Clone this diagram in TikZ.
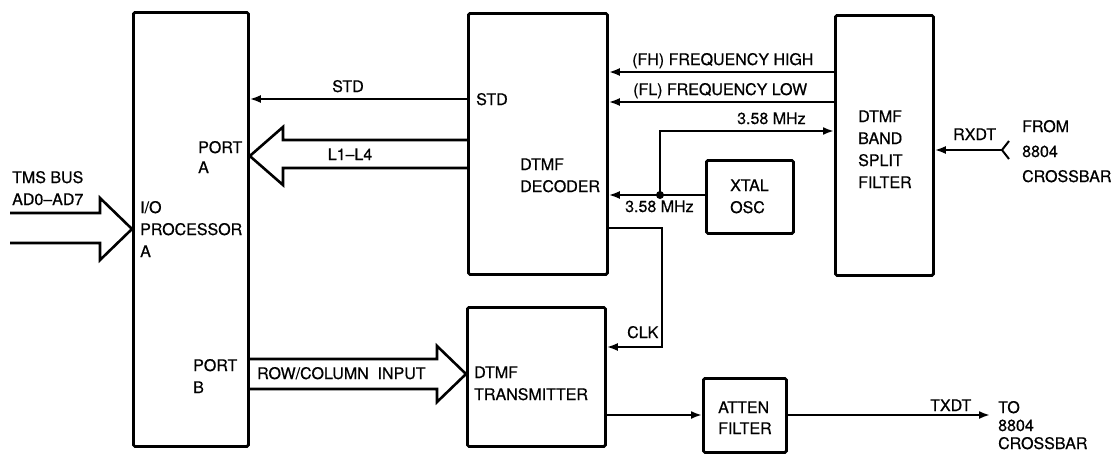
\documentclass[tikz,border=0pt]{standalone}
\usepackage{fontspec}
\setmainfont{TeX Gyre Heros}[FakeBold=0.6]
\usetikzlibrary{arrows.meta, calc}

\begin{document}
\begin{tikzpicture}[x=1pt, y=-1pt,
    blk/.style={draw, line width=2.8pt, rounded corners=1.5pt, inner sep=0pt, anchor=north west},
    wire/.style={line width=2pt},
    sig/.style={wire, -{Latex[length=11pt,width=8pt]}},
    bus/.style={line width=2.6pt, line join=miter},
    lbl/.style={inner sep=0pt, anchor=base west, align=left, font=\fontsize{16}{22}\selectfont}]
  \useasboundingbox (0,0) rectangle (1117,453);

  % Blocks
  \node[blk, minimum width=115pt, minimum height=434pt] (io) at (132,11) {};
  \node[blk, minimum width=139pt, minimum height=261pt] (dec) at (467,12) {};
  \node[blk, minimum width=98pt, minimum height=260pt] (bsf) at (834,14) {};
  \node[blk, minimum width=87pt, minimum height=73pt] (xtal) at (705,159) {};
  \node[blk, minimum width=138pt, minimum height=139pt] (tx) at (466,306) {};
  \node[blk, minimum width=83pt, minimum height=74pt] (att) at (702,377) {};

  % Buses
  \draw[bus] (10,213) -- (100,213) -- (100,198) -- (io.west |- 0,229)
    -- (100,260) -- (100,243) -- (10,243);
  \draw[bus] (dec.west |- 0,140) -- (283,140) -- (283,127) -- (io.east |- 0,156)
    -- (283,185) -- (283,168) -- (dec.west |- 0,168);
  \draw[bus] (io.east |- 0,359) -- (437,359) -- (437,346) -- (tx.west |- 0,374)
    -- (437,402) -- (437,389) -- (io.east |- 0,389);

  % Signals
  \draw[sig] (dec.west |- 0,99) -- (io.east |- 0,99);
  \draw[sig, line width=2.6pt] (bsf.west |- 0,72) -- (dec.east |- 0,72);
  \draw[sig] (bsf.west |- 0,102) -- (dec.east |- 0,102);
  \coordinate (jn) at (660,195);
  \draw[sig] (xtal.west |- jn) -- (dec.east |- jn);
  \fill (jn) circle (4pt);
  \draw[sig] (jn) |- (bsf.west |- 0,131);
  \draw[sig] (dec.east |- 0,228) -| (662,300) |- (tx.east |- 0,347);
  \draw[sig] (tx.east |- 0,415) -- (att.west |- 0,415);
  \coordinate (txout) at (990,415);
  \draw[sig] (att.east |- txout) -- (txout);
  \coordinate (rxin) at (1002,150);
  \draw[sig] (rxin) -- (bsf.east |- rxin);
  \draw[wire] (1009,141) -- (rxin) -- (1009,159);

  % Labels (base = last line)
  \node[lbl] (tmslbl) at (12,205) {TMS BUS\\AD0--AD7};
  \node[lbl] (iolbl) at (140,257) {I/O\\PROCESSOR\\A};
  \node[lbl, font=\fontsize{16}{20}\selectfont] (portalbl) at (198,173) {PORT\\A};
  \node[lbl] (portblbl) at (193,393) {PORT\\B};
  \node[lbl, anchor=base] (stdlbl) at (348,92) {STD};
  \node[lbl] (stdin) at (476,105) {STD};
  \node[lbl, anchor=base] (llbl) at (350,160) {L1--L4};
  \node[lbl] (declbl) at (520,192) {DTMF\\DECODER};
  \node[lbl] (fhlbl) at (632,65) {(FH) FREQUENCY HIGH};
  \node[lbl] (fllbl) at (633,95) {(FL) FREQUENCY LOW};
  \node[lbl] (mhzhi) at (737,124) {3.58 MHz};
  \node[lbl] (mhzlo) at (625,212) {3.58 MHz};
  \node[lbl] (xtallbl) at (730,213) {XTAL\\OSC};
  \node[lbl] (bsflbl) at (858,188) {DTMF\\BAND\\SPLIT\\FILTER};
  \node[lbl] (rxlbl) at (953,140) {RXDT};
  \node[lbl, font=\fontsize{16}{25}\selectfont] (fromlbl) at (1022,182) {FROM\\8804\\CROSSBAR};
  \node[lbl] (clklbl) at (627,338) {CLK};
  \node[lbl] (rowlbl) at (257,379) {ROW/COLUMN\ \ INPUT};
  \node[lbl] (txlbl) at (474,400) {DTMF\\TRANSMITTER};
  \node[lbl, font=\fontsize{16}{21}\selectfont] (attlbl) at (718,434) {ATTEN\\FILTER};
  \node[lbl] (txdtlbl) at (930,411) {TXDT};
  \node[lbl, font=\fontsize{16}{18}\selectfont] (tolbl) at (998,449) {TO\\8804\\CROSSBAR};
\end{tikzpicture}
\end{document}
